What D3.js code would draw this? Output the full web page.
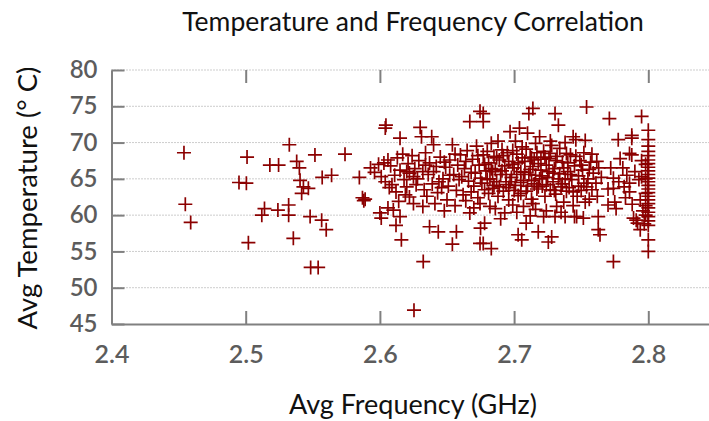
<!DOCTYPE html>
<html>
<head>
<meta charset="utf-8">
<script src="https://cdn.jsdelivr.net/npm/d3@7"></script>
<style>
  body { margin: 0; background: #fff; }
  svg { display: block; }
  text { font-family: Lato, 'Open Sans', sans-serif; }
</style>
</head>
<body>
<svg id="chart" width="709" height="421"></svg>
<script>
/* tick values and labels */
const xTicks = [2.4, 2.5, 2.6, 2.7, 2.8]
const yTicks = [45, 50, 55, 60, 65, 70, 75, 80]
const titleText = 'Temperature and Frequency Correlation'
const xLabel = 'Avg Frequency (GHz)'
const yLabel = 'Avg Temperature (° C)'

/* samples: [avg frequency GHz, avg temperature C] */
/* sparse part on the left */
const sparseSamples = [
  [2.454, 68.6], [2.455, 61.5], [2.459, 59.0],
  [2.495, 64.5], [2.5005, 64.4], [2.501, 68.0], [2.502, 56.2],
  [2.512, 60.0], [2.514, 60.9], [2.518, 66.9], [2.5245, 66.9], [2.524, 60.7],
  [2.5325, 69.7], [2.532, 61.4], [2.532, 60.0], [2.5355, 56.8], [2.538, 67.4],
  [2.540, 66.5], [2.5405, 64.8], [2.5417, 63.0], [2.543, 63.9], [2.5467, 63.7],
  [2.548, 59.8], [2.5484, 52.8], [2.5516, 68.3], [2.554, 52.8], [2.5566, 59.3],
  [2.557, 65.2], [2.560, 58.0], [2.564, 65.5], [2.574, 68.4],
  [2.5847, 65.2], [2.587, 62.4], [2.588, 62.0], [2.589, 62.2], [2.593, 66.5],
  [2.596, 65.9], [2.599, 67.0], [2.600, 60.3], [2.601, 59.6], [2.601, 65.3],
  [2.603, 67.2], [2.604, 72.0], [2.6045, 72.4], [2.604, 64.6], [2.606, 67.6],
  [2.607, 63.8]
]

/* dense part 2.60 - 2.68 */
const midSamples = [
  [2.608, 66.8], [2.611, 65.5], [2.613, 67.9], [2.609, 64.2], [2.612, 63.2],
  [2.615, 66.2], [2.617, 68.4], [2.618, 64.9], [2.619, 62.8], [2.621, 67.1],
  [2.614, 61.9], [2.606, 61.0], [2.610, 60.7], [2.615, 59.8], [2.612, 58.6],
  [2.616, 56.6], [2.615, 70.6], [2.622, 65.8], [2.620, 63.9], [2.622, 62.5],
  [2.625, 61.6], [2.624, 68.2], [2.626, 66.4], [2.627, 64.2],
  [2.630, 72.1], [2.631, 70.8], [2.629, 67.5], [2.632, 66.0], [2.628, 65.0],
  [2.633, 63.5], [2.634, 68.6], [2.636, 65.6], [2.637, 67.2], [2.639, 64.3],
  [2.6386, 70.8], [2.640, 69.7], [2.632, 61.2], [2.641, 61.6], [2.637, 58.4],
  [2.6435, 57.7], [2.6323, 53.6], [2.6254, 46.9], [2.635, 62.6], [2.642, 66.7],
  [2.643, 63.1],
  [2.645, 68.0], [2.647, 65.0], [2.649, 66.6], [2.651, 64.0], [2.652, 67.6],
  [2.654, 69.7], [2.655, 65.6], [2.657, 63.4], [2.658, 66.9], [2.650, 62.1],
  [2.646, 63.8], [2.654, 56.0], [2.657, 57.7], [2.660, 68.3], [2.659, 64.9],
  [2.662, 62.8], [2.648, 60.6], [2.656, 61.3],
  [2.663, 66.4], [2.665, 68.9], [2.667, 72.9], [2.6746, 74.3], [2.677, 72.9],
  [2.666, 64.7], [2.668, 63.2], [2.669, 67.7], [2.671, 65.8], [2.672, 69.5],
  [2.673, 62.4], [2.674, 66.9], [2.676, 64.4], [2.677, 68.3], [2.678, 63.5],
  [2.679, 66.1], [2.667, 60.3], [2.6746, 61.6], [2.678, 58.9], [2.6746, 56.1],
  [2.677, 74.0], [2.675, 58.2], [2.677, 56.1], [2.683, 55.4], [2.670, 61.0],
  [2.664, 62.0]
]

/* dense part 2.68 - 2.76 */
const peakSamples = [
  [2.681, 67.2], [2.682, 65.0], [2.683, 69.9], [2.684, 63.7], [2.685, 68.1],
  [2.686, 66.3], [2.687, 64.6], [2.688, 62.6], [2.689, 67.6], [2.690, 65.6],
  [2.691, 69.0], [2.692, 63.3], [2.693, 66.8], [2.694, 64.2], [2.695, 68.6],
  [2.696, 62.1], [2.697, 71.5], [2.698, 65.2], [2.699, 67.0], [2.682, 61.2],
  [2.693, 60.3], [2.686, 60.9], [2.690, 59.5], [2.684, 66.0], [2.688, 70.2],
  [2.696, 63.8], [2.699, 61.4], [2.681, 63.0],
  [2.700, 66.5], [2.701, 64.1], [2.702, 68.4], [2.703, 62.7], [2.704, 72.0],
  [2.705, 66.0], [2.706, 69.4], [2.707, 64.8], [2.708, 67.4], [2.709, 63.3],
  [2.710, 71.3], [2.711, 74.0], [2.711, 65.6], [2.712, 68.0], [2.713, 62.2],
  [2.714, 74.7], [2.714, 66.7], [2.715, 64.3], [2.716, 69.9], [2.717, 63.6],
  [2.718, 67.1], [2.719, 65.0], [2.703, 57.3], [2.7057, 56.6], [2.709, 58.9],
  [2.714, 61.6], [2.718, 57.7], [2.702, 60.4], [2.707, 61.2], [2.712, 59.9],
  [2.716, 60.8], [2.701, 70.2], [2.719, 70.8], [2.705, 63.0], [2.713, 67.9],
  [2.720, 66.2], [2.721, 64.0], [2.722, 68.8], [2.723, 62.6], [2.724, 66.9],
  [2.725, 65.2], [2.726, 67.8], [2.727, 63.5], [2.728, 69.6], [2.729, 64.6],
  [2.730, 66.4], [2.7305, 74.0], [2.733, 72.4], [2.731, 62.9], [2.732, 68.1],
  [2.734, 65.7], [2.735, 63.9], [2.736, 67.3], [2.737, 61.8], [2.738, 65.0],
  [2.739, 68.5], [2.722, 59.8], [2.7305, 59.8], [2.738, 59.8], [2.7255, 56.3],
  [2.728, 57.0], [2.7317, 61.2], [2.724, 60.6], [2.735, 60.4], [2.727, 70.2],
  [2.738, 70.0],
  [2.740, 66.0], [2.741, 63.8], [2.742, 68.3], [2.743, 64.9], [2.744, 70.8],
  [2.745, 59.8], [2.745, 66.8], [2.746, 70.4], [2.747, 62.6], [2.748, 65.4],
  [2.749, 67.5], [2.750, 63.4], [2.751, 66.2], [2.752, 64.4], [2.753, 70.3],
  [2.754, 74.9], [2.755, 65.0], [2.756, 62.2], [2.757, 67.3], [2.758, 63.5],
  [2.7466, 59.8], [2.7516, 59.6], [2.744, 61.3], [2.759, 65.8], [2.753, 61.8]
]

/* the solid looking core of the cloud */
const coreSamples = [
  [2.661, 65.3], [2.664, 67.4], [2.668, 65.9], [2.670, 64.0], [2.673, 68.2],
  [2.675, 65.1], [2.678, 67.0], [2.680, 64.9], [2.680, 68.8], [2.683, 66.4],
  [2.685, 64.1], [2.687, 67.9], [2.689, 63.9], [2.691, 66.1], [2.692, 68.2],
  [2.694, 65.6], [2.696, 67.4], [2.697, 64.6], [2.699, 68.9], [2.700, 63.4],
  [2.702, 65.6], [2.703, 67.2], [2.705, 64.5], [2.706, 67.9], [2.708, 65.9],
  [2.709, 69.1], [2.710, 64.0], [2.712, 66.3], [2.713, 64.8], [2.715, 67.6],
  [2.716, 65.5], [2.717, 68.6], [2.718, 63.9], [2.720, 67.7], [2.721, 65.4],
  [2.723, 68.0], [2.724, 64.2], [2.726, 66.0], [2.727, 68.5], [2.729, 65.8],
  [2.730, 63.4], [2.731, 67.5], [2.733, 65.0], [2.734, 69.2], [2.736, 64.3],
  [2.737, 66.5], [2.739, 63.3], [2.740, 67.2], [2.742, 65.6], [2.744, 63.2],
  [2.746, 68.1], [2.748, 64.0], [2.750, 66.9], [2.752, 68.6], [2.754, 63.9],
  [2.756, 66.3], [2.758, 68.4], [2.640, 66.0], [2.644, 64.6], [2.648, 67.3],
  [2.652, 65.5], [2.656, 68.4], [2.620, 66.0], [2.625, 65.3], [2.634, 66.9]
]

/* right part 2.76 - 2.80, including the column at 2.8 GHz */
const rightSamples = [
  [2.7616, 67.4], [2.763, 66.5], [2.7627, 59.8], [2.7627, 58.0], [2.764, 57.3],
  [2.761, 64.4], [2.762, 62.6], [2.765, 65.2], [2.770, 61.4], [2.771, 73.3],
  [2.774, 65.1], [2.774, 63.7], [2.774, 53.6], [2.776, 60.9], [2.7776, 70.4],
  [2.779, 67.8], [2.772, 66.5], [2.770, 63.6], [2.775, 61.8], [2.778, 64.6],
  [2.786, 68.5], [2.7877, 71.0], [2.7877, 70.6], [2.7877, 68.3], [2.791, 59.3],
  [2.795, 73.6], [2.781, 66.5], [2.784, 65.5], [2.786, 64.4], [2.782, 63.9],
  [2.786, 63.2], [2.789, 59.6], [2.792, 58.9], [2.794, 58.0], [2.790, 66.0],
  [2.793, 64.9], [2.794, 62.1], [2.795, 67.5], [2.796, 60.6], [2.795, 65.3],
  [2.783, 62.4], [2.788, 61.5],
  [2.800, 71.7], [2.800, 70.4], [2.800, 69.5], [2.800, 68.8], [2.800, 68.2],
  [2.800, 67.6], [2.800, 67.1], [2.800, 66.6], [2.800, 66.1], [2.800, 65.6],
  [2.800, 65.1], [2.800, 64.6], [2.800, 64.1], [2.800, 63.6], [2.800, 63.1],
  [2.800, 62.6], [2.800, 62.1], [2.800, 61.6], [2.800, 61.0], [2.800, 60.4],
  [2.800, 59.8], [2.800, 59.2], [2.800, 58.6], [2.800, 56.6], [2.800, 55.0],
  [2.798, 67.0], [2.798, 65.0], [2.798, 63.0], [2.798, 61.3], [2.798, 60.0],
  [2.797, 58.8]
]

const samples = sparseSamples.concat(midSamples, peakSamples, coreSamples, rightSamples)

/* layout */
const svg = d3.select('#chart')
const plotLeft = 111.5
const plotTop = 70
const plotBottom = 324
const tickLen = 13
const axisGray = '#808080'
const markColor = '#8b0000'
const armLen = 7

/* scales: right end of the plot runs past the picture edge */
const x = d3.scaleLinear().domain([2.4, 2.85]).range([plotLeft, plotLeft + 0.45 * 1342])
const y = d3.scaleLinear().domain([45, 80]).range([plotBottom, plotTop])

/* dotted horizontal grid */
svg.append('g')
  .attr('class', 'grid')
  .selectAll('line')
  .data(yTicks.filter((d) => d !== 45))
  .enter()
  .append('line')
  .attr('x1', plotLeft)
  .attr('x2', 709)
  .attr('y1', (d) => y(d))
  .attr('y2', (d) => y(d))
  .attr('stroke', '#9a9a9a')
  .attr('stroke-width', 1)
  .attr('stroke-dasharray', '1,2')

/* points drawn as plus signs */
svg.append('g').attr('class', 'marks')
  .selectAll('path')
  .data(samples)
  .enter()
  .append('path')
  .attr('d', (d) => {
    const cx = x(d[0])
    const cy = y(d[1])
    return `M${cx - armLen},${cy}H${cx + armLen}M${cx},${cy - armLen}V${cy + armLen}`
  })
  .attr('stroke', markColor)
  .attr('stroke-width', 1.7)
  .attr('fill', 'none')

/* axes */
const xAxis = d3.axisBottom(x)
  .tickValues(xTicks)
  .tickSize(-tickLen)
  .tickSizeOuter(0)
  .tickPadding(21)
  .tickFormat(d3.format('.1f'))

const yAxis = d3.axisLeft(y)
  .tickValues(yTicks)
  .tickSize(-tickLen)
  .tickSizeOuter(0)
  .tickPadding(14)

const gx = svg.append('g')
  .attr('transform', `translate(0,${plotBottom})`)
  .call(xAxis)

const gy = svg.append('g')
  .attr('transform', `translate(${plotLeft},0)`)
  .call(yAxis)

/* mirrored ticks along the top */
const gTop = svg.append('g')
  .attr('transform', `translate(0,${plotTop})`)
  .call(d3.axisTop(x).tickValues(xTicks.filter((d) => d > 2.4)).tickSize(-tickLen).tickFormat(''))
gTop.select('.domain').remove()

;[gx, gy, gTop].forEach((g) => {
  g.selectAll('.domain').attr('stroke', axisGray).attr('stroke-width', 2)
  g.selectAll('.tick line').attr('stroke', axisGray).attr('stroke-width', 2)
  g.selectAll('.tick text')
    .attr('fill', '#5c5c5c')
    .style('font-size', '25px')
    .style('font-weight', 600)
    .style('font-family', 'Lato, sans-serif')
})
gy.selectAll('.tick text').style('font-size', '24px')

/* title and axis labels */
svg.append('text')
  .attr('x', 413)
  .attr('y', 31)
  .attr('text-anchor', 'middle')
  .attr('fill', '#111')
  .style('font-size', '26.5px')
  .text(titleText)

svg.append('text')
  .attr('x', 413)
  .attr('y', 414)
  .attr('text-anchor', 'middle')
  .attr('fill', '#111')
  .style('font-size', '27px')
  .text(xLabel)

svg.append('text')
  .attr('transform', 'translate(37,198) rotate(-90)')
  .attr('text-anchor', 'middle')
  .attr('fill', '#111')
  .style('font-size', '27.5px')
  .text(yLabel)
</script>
</body>
</html>
